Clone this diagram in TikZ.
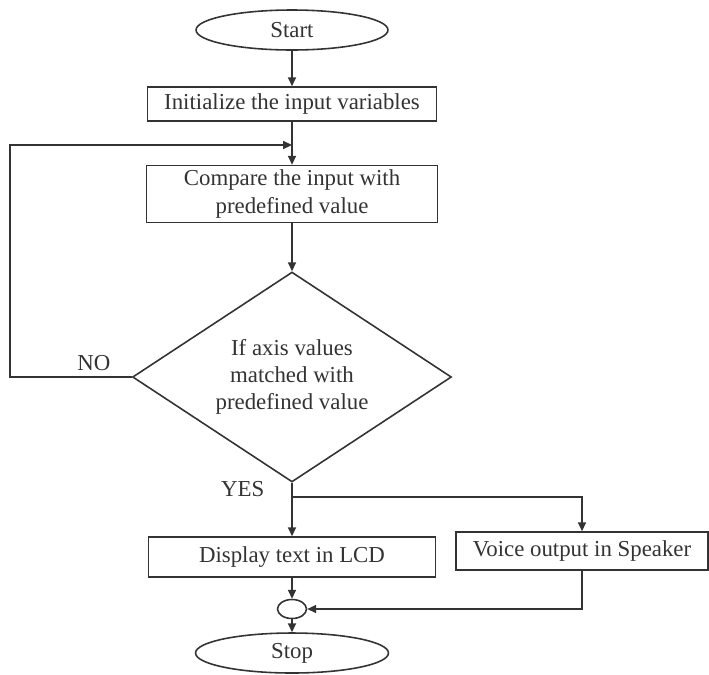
\documentclass[tikz,border=0pt]{standalone}
\usepackage{fontspec}
\setmainfont{Liberation Serif}
\usetikzlibrary{shapes.geometric,arrows.meta}

\tikzset{
  term/.style={draw, ellipse, minimum width=3.84cm, minimum height=0.8cm, inner sep=0pt},
  box/.style={draw, rectangle, align=center, inner sep=2pt},
  decide/.style={draw, diamond, align=center, inner sep=0pt, shape aspect=1.5,
    minimum width=6.38cm, minimum height=4.2cm},
  joint/.style={draw, ellipse, minimum width=0.58cm, minimum height=0.38cm, inner sep=0pt},
}

\begin{document}
\begin{tikzpicture}[x=0.02cm, y=-0.02cm, >={Triangle[length=5pt,width=4.5pt]},
    line width=0.9pt, color=black!80, font=\fontsize{13}{15.5}\selectfont]
    \useasboundingbox (0,0) rectangle (709,674);

    \node at (292,30) [term] (start) {Start};
    \node at (292,104) [box, minimum width=5.78cm, minimum height=0.68cm] (init) {Initialize the input variables};
    \node at (292,194) [box, minimum width=5.82cm, minimum height=1.14cm] (compare) {Compare the input with\\predefined value};
    \node at (292,377) [decide] (check) {If axis values\\matched with\\predefined value};
    \node at (292,557) [box, minimum width=5.74cm, minimum height=0.8cm] (lcd) {Display text in LCD};
    \node at (582,551) [box, minimum width=5.04cm, minimum height=0.76cm] (voice) {Voice output in Speaker};
    \node at (292,609) [joint] (join) {};
    \node at (292,653) [term, minimum width=3.86cm] (stop) {Stop};

    \coordinate (merge) at (292,145);
    \coordinate (split) at (292,497);

    \draw[->] (start) -- (init);
    \draw[->] (init) -- (compare);
    \draw[->] (compare) -- (check);

    % NO: back to the comparison
    \draw[->] (check.west) -- node[pos=0.31, above] {NO} ++(-122,0) |- (merge);

    % YES: both outputs
    \draw[->] (check.south) -- node[pos=0.12, left=12pt] {YES} (lcd.north);
    \draw[->] (split) -| (voice.north);

    \draw[->] (lcd) -- (join);
    \draw[->] (voice.south) |- (join.east);
    \draw[->] (join) -- (stop);
\end{tikzpicture}
\end{document}
